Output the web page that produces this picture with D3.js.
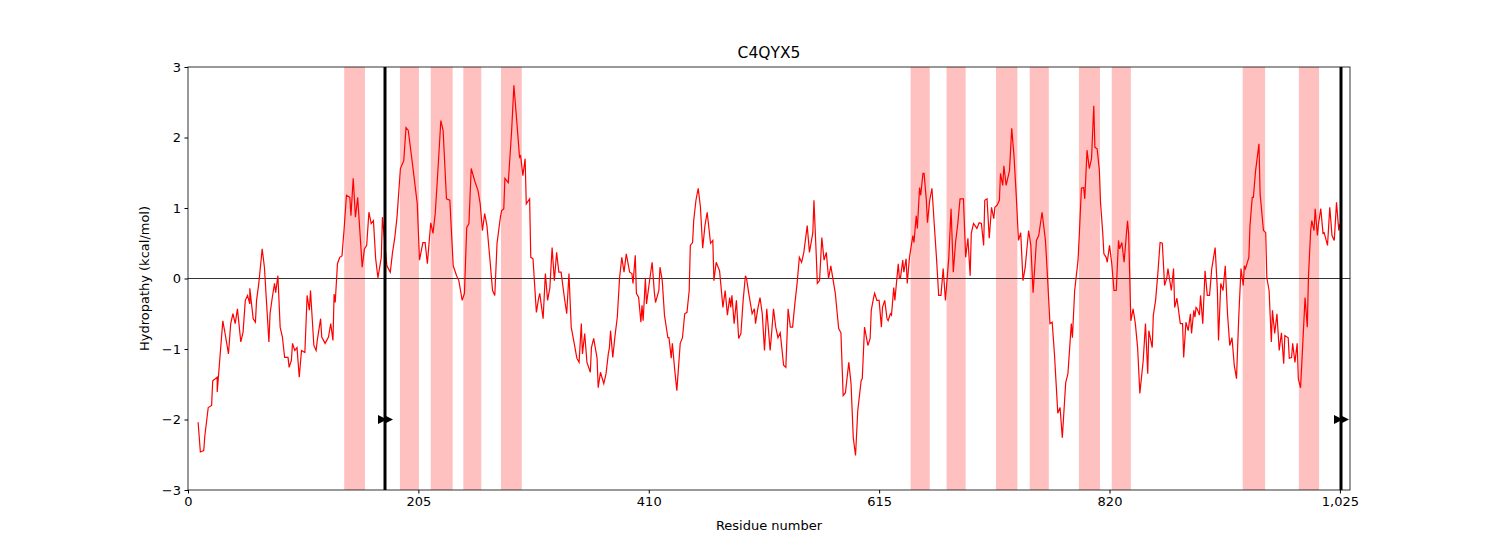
<!DOCTYPE html>
<html><head><meta charset="utf-8">
<script src="https://cdn.jsdelivr.net/npm/d3@7"></script>
<style>body{margin:0;background:#fff}svg{font-family:"DejaVu Sans",sans-serif}</style>
</head><body><svg id="c" width="1500" height="550"></svg>
<script>
const title = "C4QYX5";
const xTicks = [0,205,410,615,820,1025];
const yTicks = [-3,-2,-1,0,1,2,3];
const residues = [9,11,14,15,18,21,22,26,26,29,31,33,36,38,40,42,44,47,49,51,53,55,55,58,60,61,63,66,68,72,73,75,77,78,80,82,84,86,89,90,92,93,95,97,99,101,104,106,108,109,112,114,115,118,119,122,125,127,129,130,131,133,135,137,139,141,144,145,147,149,151,155,157,159,161,163,165,167,169,172,173,177,180,182,184,186,189,192,194,196,199,201,204,206,209,211,213,216,218,220,222,225,227,230,233,236,239,241,244,246,248,250,252,255,258,260,262,264,266,269,271,273,275,278,279,281,282,285,288,290,293,295,296,298,300,301,304,305,307,310,312,313,316,318,320,322,324,326,328,330,332,335,337,339,341,344,346,348,350,351,353,355,358,359,361,364,365,367,370,372,374,375,376,378,380,382,384,386,388,390,393,395,396,398,399,401,403,404,405,407,408,411,413,415,416,419,420,422,424,427,428,430,431,433,435,438,440,442,444,446,447,449,450,452,454,456,458,460,462,465,467,468,470,473,476,478,480,482,483,484,486,488,490,492,494,496,497,499,502,504,505,507,509,511,513,515,518,519,521,523,525,527,530,532,534,536,538,540,542,544,546,548,551,553,556,557,559,560,562,564,566,568,570,572,576,579,581,583,585,588,590,592,594,596,599,600,602,605,607,608,610,611,613,615,617,618,620,622,623,625,626,628,629,632,633,634,636,637,639,640,642,645,646,648,649,651,652,654,655,657,658,660,662,664,666,668,670,672,674,677,679,681,683,685,687,690,692,694,696,697,699,702,704,706,708,709,711,713,715,717,718,720,722,723,725,726,728,731,733,735,737,739,741,743,745,748,750,752,755,757,760,763,765,767,769,771,774,776,778,781,783,786,787,789,792,793,795,797,798,800,802,804,806,807,809,811,812,814,815,817,818,820,822,824,826,828,829,831,833,836,837,839,841,843,845,847,850,852,854,855,858,859,861,863,865,867,869,871,872,875,877,878,880,883,885,886,888,890,892,893,895,896,897,898,900,901,903,905,907,909,911,914,916,917,919,921,923,925,927,929,931,933,935,937,939,940,941,944,945,947,948,950,953,954,957,959,960,962,964,965,967,969,971,973,975,976,979,980,982,983,985,987,988,990,992,994,996,997,999,1000,1002,1003,1005,1006,1008,1010,1011,1014,1016,1018,1020,1022,1024,1025];
const values = [-2.04,-2.46,-2.44,-2.23,-1.83,-1.8,-1.45,-1.4,-1.61,-1.0,-0.6,-0.78,-1.07,-0.64,-0.5,-0.64,-0.43,-0.9,-0.76,-0.31,-0.24,-0.36,-0.14,-0.57,-0.62,-0.31,-0.07,0.42,0.16,-0.9,-0.5,-0.27,-0.07,-0.2,0.04,-0.69,-0.83,-1.12,-1.12,-1.26,-1.16,-0.92,-1.02,-0.98,-1.4,-1.02,-1.05,-0.24,-0.45,-0.17,-0.95,-1.02,-0.88,-0.57,-0.83,-0.92,-0.83,-0.64,-0.88,-0.22,-0.34,0.21,0.3,0.32,0.72,1.18,1.15,0.89,1.42,0.87,1.15,0.16,0.42,0.47,0.94,0.78,0.82,0.28,0.01,0.3,0.87,0.18,0.09,0.37,0.58,0.87,1.56,1.67,2.14,2.1,1.72,1.46,1.06,0.26,0.51,0.51,0.21,0.79,0.64,0.92,1.43,2.24,2.1,1.13,1.11,0.18,0.04,-0.03,-0.31,-0.21,0.72,0.78,1.56,1.39,1.25,1.06,0.68,0.92,0.75,0.21,-0.17,-0.24,0.5,0.87,0.96,0.99,1.42,1.36,2.1,2.74,2.14,1.72,1.74,1.46,1.7,1.06,1.13,0.3,0.28,-0.48,-0.28,-0.21,-0.57,0.07,-0.31,-0.13,0.44,-0.03,0.37,0.09,0.09,-0.28,-0.5,0.07,-0.69,-0.95,-1.13,-1.19,-0.64,-1.07,-0.78,-1.19,-1.33,-0.98,-0.85,-1.13,-1.55,-1.33,-1.49,-1.35,-1.07,-0.98,-0.74,-1.12,-0.81,-0.55,0.0,0.3,0.09,0.35,0.09,0.07,-0.07,0.33,-0.21,-0.27,-0.62,-0.38,-0.6,0.0,-0.36,0.0,0.23,-0.2,-0.34,-0.17,0.16,-0.03,-0.52,-0.84,-0.84,-1.13,-0.92,-1.28,-1.59,-0.92,-0.84,-0.5,-0.48,-0.17,0.47,0.51,0.82,1.11,1.28,1.01,0.43,0.75,0.94,0.5,0.54,-0.03,0.23,0.11,-0.41,-0.17,-0.52,-0.27,-0.41,-0.24,-0.64,-0.31,-0.85,-0.78,-0.31,0.04,0.0,-0.21,-0.5,-0.43,-0.64,-0.43,-0.27,-0.5,-1.02,-0.43,-1.02,-0.84,-0.43,-0.69,-0.84,-0.77,-1.23,-1.26,-0.43,-0.69,-0.69,-0.36,-0.07,0.3,0.23,0.37,0.75,0.37,0.65,1.11,0.35,-0.07,-0.03,0.58,0.26,0.37,0.0,0.18,-0.21,-0.71,-0.77,-1.66,-1.62,-1.19,-1.49,-2.26,-2.51,-1.87,-1.45,-1.42,-0.69,-0.95,-0.85,-0.45,-0.28,-0.21,-0.31,-0.31,-0.69,-0.41,-0.31,-0.57,-0.6,-0.5,-0.52,-0.13,-0.31,0.21,0.01,0.01,0.26,0.09,0.28,-0.07,0.3,0.61,0.51,0.89,0.71,1.29,1.18,1.49,1.49,1.11,0.79,1.11,1.28,0.78,0.3,-0.24,-0.24,0.14,-0.31,0.3,0.99,0.09,0.51,0.78,1.13,1.13,0.3,0.57,0.04,0.64,0.78,0.71,0.79,0.78,0.47,1.11,1.13,0.57,1.01,0.85,1.01,1.04,1.11,1.49,1.32,1.6,1.32,1.53,2.13,1.74,1.18,0.54,0.65,-0.03,0.16,0.68,0.47,-0.2,0.54,0.61,0.94,0.54,-0.03,-0.64,-0.62,-1.07,-1.91,-1.83,-2.26,-1.48,-1.35,-0.64,-0.84,-0.17,0.26,0.58,1.28,1.29,1.13,1.82,1.56,1.7,2.45,1.86,1.84,1.53,1.08,0.64,0.35,0.3,0.23,0.47,0.21,-0.17,-0.17,0.54,0.42,0.51,0.23,0.82,0.64,-0.6,-0.43,-0.64,-0.98,-1.63,-1.16,-0.64,-1.35,-0.74,-0.98,-0.52,-0.31,0.07,0.51,0.5,-0.1,0.01,0.14,-0.17,0.14,-0.41,-0.28,-0.64,-0.64,-1.12,-0.62,-0.74,-0.5,-0.78,-0.45,-0.55,-0.41,-0.43,-0.52,-0.24,-0.64,0.11,-0.24,-0.24,0.14,0.44,-0.17,-0.88,-0.07,-0.17,0.18,-0.5,-0.95,-0.84,-1.23,-1.42,-0.55,0.14,-0.1,0.18,0.14,0.3,0.75,1.15,1.15,1.53,1.91,1.2,0.68,0.65,0.01,-0.17,-0.9,-0.45,-0.78,-0.5,-1.02,-0.77,-1.21,-0.81,-0.84,-1.13,-1.12,-0.92,-1.19,-0.92,-1.42,-1.55,-0.92,-0.27,-0.69,0.01,0.68,0.82,0.68,0.99,0.61,0.78,0.99,0.64,0.65,0.47,1.01,0.61,0.54,1.08,0.68,0.78,0.78,1.22];
const spanStart = [139,188.6,216,245,278.5,643,675,719,749,792.8,822,938.5,988.5];
const spanEnd = [157.5,205.5,235.5,261,297,660,692,738,766,811.5,839,958.5,1006.5];
const markers = [175.3,1026];

const svg = d3.select("#c");
const L=188,R=1350,T=67,B=490;
const x = d3.scaleLinear().domain([0,1034]).range([L,R]);
const y = d3.scaleLinear().domain([-3,3]).range([B,T]);
const g = svg.append("g");
g.selectAll("rect.s").data(spanStart).enter().append("rect")
 .attr("x",(d)=>x(d)).attr("width",(d,i)=>x(spanEnd[i])-x(d))
 .attr("y",T).attr("height",B-T).attr("fill","#ffc0c0");
g.append("line").attr("x1",L).attr("x2",R).attr("y1",y(0)).attr("y2",y(0)).attr("stroke","#000").attr("stroke-width",0.8);
const pts = residues.map((r,i)=>[r,values[i]]);
g.append("path").datum(pts).attr("fill","none").attr("stroke","red").attr("stroke-width",1.2)
 .attr("d",d3.line().x(d=>x(d[0])).y(d=>y(d[1])));
markers.forEach(m=>{
  g.append("line").attr("x1",x(m)).attr("x2",x(m)).attr("y1",T).attr("y2",B).attr("stroke","#000").attr("stroke-width",3);
  [-3,3].forEach(o=>{
    const cx=x(m)+o, cy=y(-2);
    g.append("path").attr("d",`M${cx-4},${cy-4.5}L${cx+5},${cy}L${cx-4},${cy+4.5}Z`).attr("fill","#000");
  });
});
const fmt = d=>String(d).replace("-","\u2212");
const xa = svg.append("g").attr("transform",`translate(0,${B})`).call(d3.axisBottom(x).tickValues(xTicks).tickSize(3.5).tickPadding(3.5));
const ya = svg.append("g").attr("transform",`translate(${L},0)`).call(d3.axisLeft(y).tickValues(yTicks).tickFormat(fmt).tickSize(3.5).tickPadding(3.5));
[xa,ya].forEach(a=>{a.selectAll("text").attr("font-size",13).attr("font-family","DejaVu Sans").attr("fill","#000");a.select(".domain").remove();a.selectAll("line").attr("stroke","#000");});
svg.append("rect").attr("x",L).attr("y",T).attr("width",R-L).attr("height",B-T).attr("fill","none").attr("stroke","#000").attr("stroke-width",0.8);
svg.append("text").attr("x",(L+R)/2).attr("y",58).attr("text-anchor","middle").attr("font-size",15.5).text(title);
svg.append("text").attr("x",(L+R)/2).attr("y",530).attr("text-anchor","middle").attr("font-size",13).text("Residue number");
svg.append("text").attr("transform",`translate(149,${(T+B)/2}) rotate(-90)`).attr("text-anchor","middle").attr("font-size",13).text("Hydropathy (kcal/mol)");
</script></body></html>
